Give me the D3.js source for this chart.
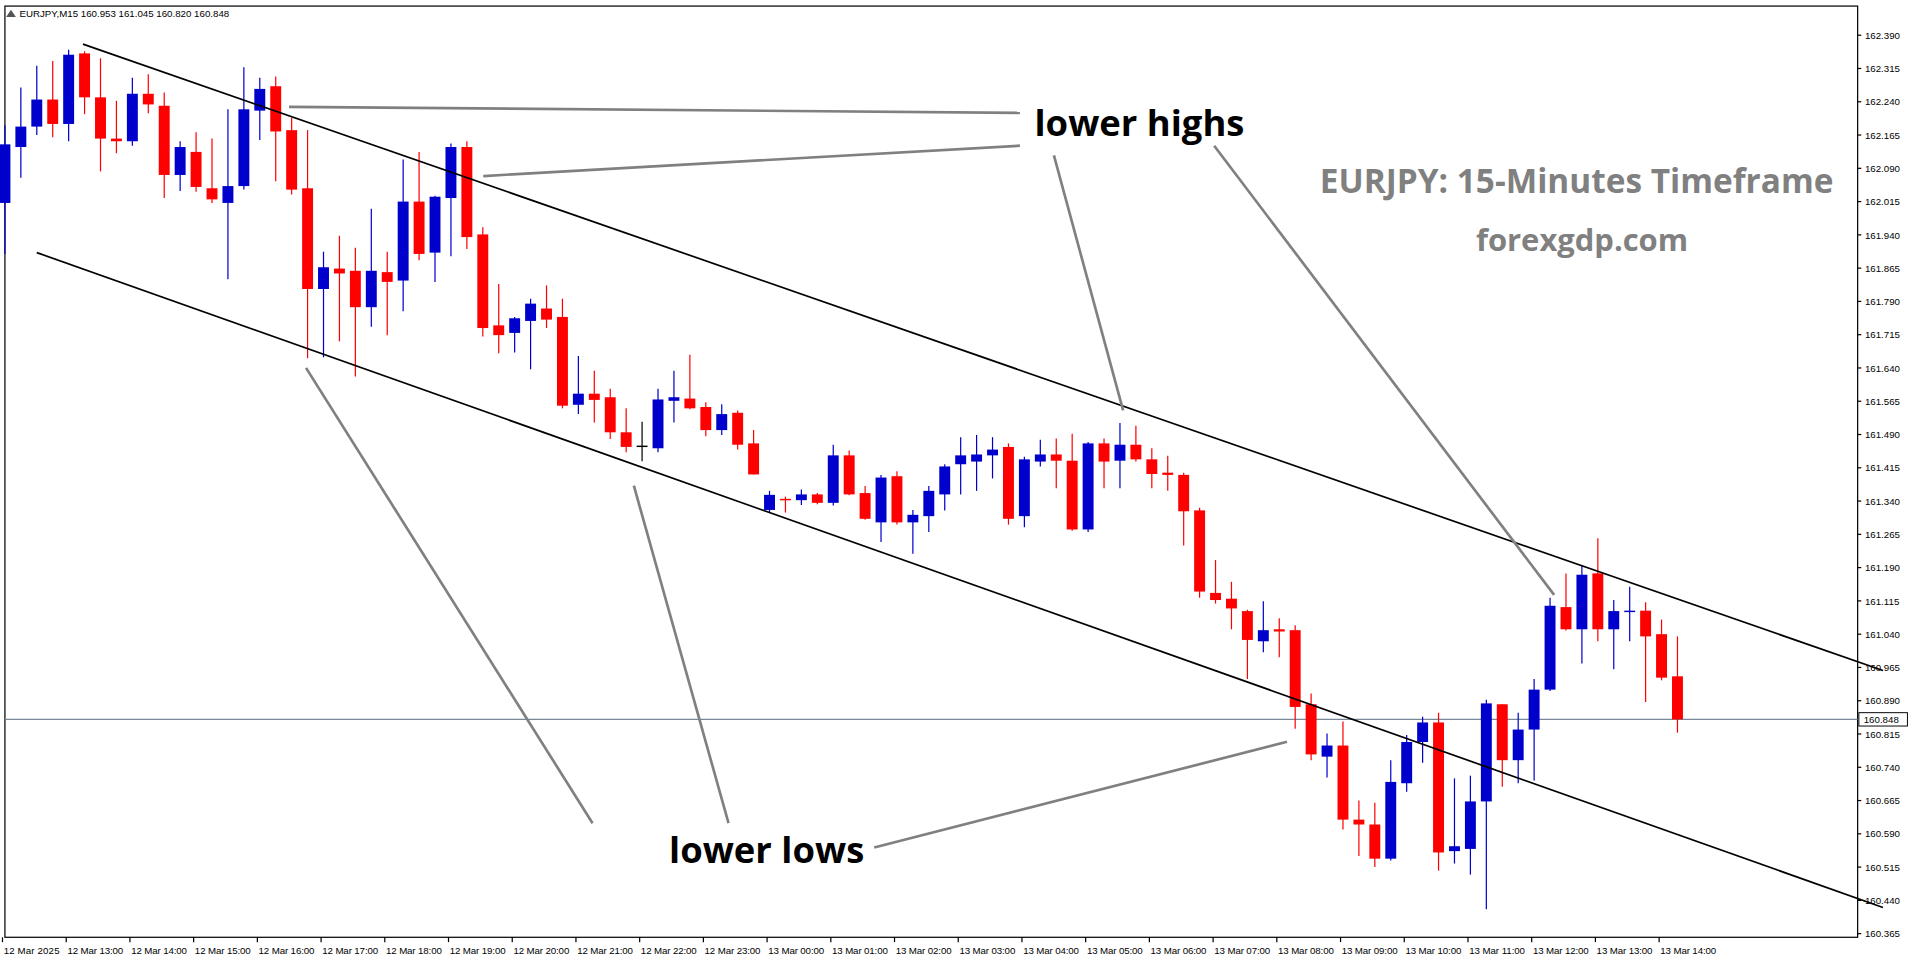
<!DOCTYPE html>
<html>
<head>
<meta charset="utf-8">
<script src="https://cdn.jsdelivr.net/npm/d3@7"></script>
<style>
  body { margin: 0; background: #fff; overflow: hidden; }
  text { font-family: "Liberation Sans", Arial, sans-serif; }
</style>
</head>
<body>
<div id="chart"></div>
<script>
// EURJPY M15 candles, 12 Mar 2025 12:00 .. 13 Mar 2025 14:15
const opens = [162.012,162.138,162.184,162.245,162.190,162.349,162.250,162.157,162.151,162.258,
  162.231,162.075,162.127,162.045,162.012,162.050,162.220,162.275,162.176,162.045,
  161.818,161.864,161.859,161.777,161.856,161.837,162.015,161.900,162.023,162.138,
  161.941,161.736,161.719,161.746,161.774,161.755,161.557,161.582,161.574,161.495,
  161.465,161.459,161.566,161.571,161.552,161.500,161.539,161.470,161.320,161.345,
  161.342,161.355,161.336,161.443,161.358,161.292,161.396,161.292,161.306,161.355,
  161.423,161.429,161.443,161.462,161.306,161.429,161.445,161.431,161.276,161.470,
  161.431,161.467,161.434,161.404,161.399,161.319,161.133,161.120,161.092,161.024,
  161.051,161.049,160.882,160.764,160.789,160.622,160.611,160.534,160.704,160.797,
  160.841,160.551,160.556,160.663,160.882,160.756,160.825,160.915,161.101,161.051,
  161.177,161.051,161.090,161.093,161.040,160.945];
const highs = [162.187,162.272,162.321,162.332,162.357,162.354,162.338,162.242,162.294,162.302,
  162.261,162.151,162.171,162.157,162.223,162.318,162.294,162.297,162.204,162.176,
  161.902,161.938,161.911,161.999,161.902,162.110,162.127,162.028,162.146,162.151,
  161.957,161.829,161.755,161.796,161.826,161.796,161.667,161.634,161.593,161.549,
  161.519,161.593,161.634,161.670,161.563,161.558,161.544,161.500,161.363,161.350,
  161.366,161.358,161.467,161.454,161.374,161.399,161.407,161.320,161.374,161.423,
  161.484,161.489,161.484,161.470,161.440,161.478,161.481,161.492,161.473,161.481,
  161.516,161.510,161.459,161.442,161.404,161.325,161.207,161.158,161.095,161.114,
  161.076,161.060,160.906,160.816,160.843,160.665,160.660,160.756,160.813,160.854,
  160.863,160.715,160.721,160.892,160.882,160.863,160.939,161.122,161.177,161.196,
  161.256,161.117,161.147,161.112,161.073,161.035];
const lows = [161.897,162.069,162.165,162.160,162.151,162.212,162.083,162.124,162.141,162.214,
  162.023,162.039,162.037,162.012,161.840,162.042,162.154,162.061,162.031,161.662,
  161.664,161.700,161.621,161.733,161.714,161.768,161.883,161.834,161.892,161.908,
  161.711,161.673,161.675,161.637,161.730,161.549,161.536,161.517,161.480,161.450,
  161.430,161.450,161.517,161.547,161.486,161.489,161.456,161.400,161.314,161.314,
  161.331,161.333,161.330,161.353,161.298,161.248,161.287,161.221,161.270,161.319,
  161.355,161.363,161.391,161.287,161.281,161.418,161.369,161.273,161.270,161.369,
  161.369,161.429,161.369,161.363,161.240,161.122,161.109,161.051,160.939,160.999,
  160.988,160.827,160.756,160.717,160.600,160.540,160.515,160.530,160.685,160.750,
  160.507,160.523,160.498,160.420,160.696,160.704,160.710,160.912,161.048,160.974,
  161.024,160.961,161.024,160.887,160.936,160.818];
const closes = [162.144,162.184,162.245,162.190,162.346,162.250,162.157,162.151,162.258,162.234,
  162.075,162.138,162.048,162.020,162.050,162.223,162.269,162.173,162.042,161.818,
  161.867,161.853,161.777,161.859,161.834,162.015,161.897,162.026,162.138,161.935,
  161.730,161.714,161.752,161.785,161.749,161.555,161.582,161.568,161.495,161.462,
  161.465,161.569,161.574,161.549,161.500,161.536,161.467,161.400,161.354,161.342,
  161.355,161.336,161.443,161.355,161.300,161.393,161.292,161.309,161.363,161.418,
  161.443,161.445,161.456,161.300,161.434,161.445,161.431,161.276,161.470,161.429,
  161.467,161.434,161.401,161.399,161.317,161.136,161.117,161.098,161.027,161.049,
  161.046,160.876,160.769,160.789,160.622,160.611,160.534,160.707,160.797,160.841,
  160.548,160.562,160.663,160.884,160.756,160.825,160.915,161.104,161.051,161.174,
  161.051,161.092,161.093,161.035,160.942,160.848];

const timeLabels = ["12 Mar 2025","12 Mar 13:00","12 Mar 14:00","12 Mar 15:00","12 Mar 16:00",
  "12 Mar 17:00","12 Mar 18:00","12 Mar 19:00","12 Mar 20:00","12 Mar 21:00","12 Mar 22:00",
  "12 Mar 23:00","13 Mar 00:00","13 Mar 01:00","13 Mar 02:00","13 Mar 03:00","13 Mar 04:00",
  "13 Mar 05:00","13 Mar 06:00","13 Mar 07:00","13 Mar 08:00","13 Mar 09:00","13 Mar 10:00",
  "13 Mar 11:00","13 Mar 12:00","13 Mar 13:00","13 Mar 14:00"];
const priceTicks = d3.range(0, 28).map(k => +(160.365 + k * 0.075).toFixed(3));
const lastPrice = 160.848;

// channel lines [candle index, price]
const upperChannel = [[4.9, 162.370], [117.9, 160.958]];
const lowerChannel = [[2.0, 161.900], [117.9, 160.424]];

// drawn in a 1578x794 design space, scaled to the window
const W = 1578, H = 794;
const plot = {left: 4, right: 1530, top: 5, bottom: 772};

const svg = d3.select("#chart").append("svg")
  .attr("width", 1916).attr("height", 964)
  .attr("viewBox", `0 0 ${W} ${H}`);

const x = d3.scaleLinear().domain([0, 105]).range([4, 4 + 13.12 * 105]);
const y = d3.scaleLinear().domain([160.365, 162.390]).range([769, 29]);

// frame
svg.append("rect")
  .attr("x", plot.left).attr("y", plot.top)
  .attr("width", plot.right - plot.left).attr("height", plot.bottom - plot.top)
  .attr("fill", "none").attr("stroke", "#000").attr("stroke-width", 1);

// price axis
const pa = svg.append("g");
priceTicks.forEach(p => {
  pa.append("line").attr("x1", plot.right).attr("x2", plot.right + 3)
    .attr("y1", y(p)).attr("y2", y(p)).attr("stroke", "#000");
  pa.append("text").attr("x", plot.right + 6).attr("y", y(p) + 3)
    .attr("font-size", 8).text(p.toFixed(3));
});

// time axis
const ta = svg.append("g");
timeLabels.forEach((t, k) => {
  const xx = x(k * 4) - 2;
  ta.append("line").attr("x1", xx).attr("x2", xx)
    .attr("y1", plot.bottom).attr("y2", plot.bottom + 4).attr("stroke", "#000");
  ta.append("text").attr("x", xx + 1).attr("y", plot.bottom + 14)
    .attr("font-size", 8).attr("textLength", 46).text(t);
});

// last price line
svg.append("line").attr("x1", plot.left).attr("x2", plot.right)
  .attr("y1", y(lastPrice)).attr("y2", y(lastPrice))
  .attr("stroke", "#778899").attr("stroke-width", 1);
svg.append("rect").attr("x", plot.right + 1).attr("y", y(lastPrice) - 5.5)
  .attr("width", 40).attr("height", 11).attr("fill", "#fff").attr("stroke", "#000").attr("stroke-width", 0.8);
svg.append("text").attr("x", plot.right + 5).attr("y", y(lastPrice) + 3)
  .attr("font-size", 8).text(lastPrice.toFixed(3));

// candles
const candles = d3.range(opens.length).map(i => ({
  i, o: opens[i], h: highs[i], l: lows[i], c: closes[i]
}));
const color = d => d.c > d.o ? "#0000cc" : (d.c < d.o ? "#ff0000" : "#000");
const g = svg.append("g");
g.selectAll("line.wick").data(candles).enter().append("line")
  .attr("x1", d => x(d.i)).attr("x2", d => x(d.i))
  .attr("y1", d => y(d.h)).attr("y2", d => y(d.l))
  .attr("stroke", color).attr("stroke-width", 1);
g.selectAll("rect").data(candles).enter().append("rect")
  .attr("x", d => x(d.i) - 4.5).attr("width", 9)
  .attr("y", d => y(Math.max(d.o, d.c)))
  .attr("height", d => Math.max(1.2, Math.abs(y(d.o) - y(d.c))))
  .attr("fill", color);

// channel lines
const chan = d3.line().x(d => x(d[0])).y(d => y(d[1]));
[upperChannel, lowerChannel].forEach(c => {
  svg.append("path").attr("d", chan(c)).attr("stroke", "#000")
    .attr("stroke-width", 1.4).attr("fill", "none");
});

// annotations
const pointers = [
  [[238, 88], [840, 93]], [[398, 145], [840, 120]],
  [[868, 128], [925, 338]], [[1000, 120], [1280, 490]],
  [[252, 303], [488, 678]], [[522, 400], [600, 678]], [[720, 698], [1060, 611]]
];
pointers.forEach(p => {
  svg.append("line").attr("x1", p[0][0]).attr("y1", p[0][1])
    .attr("x2", p[1][0]).attr("y2", p[1][1])
    .attr("stroke", "#808080").attr("stroke-width", 2.2);
});
const bold = "'Open Sans', 'Noto Sans', sans-serif";
const big = (tx, ty, size, fill, txt) => svg.append("text")
  .attr("x", tx).attr("y", ty).style("font-family", bold)
  .attr("font-weight", 700).attr("font-size", size).attr("fill", fill).text(txt);
big(852, 112, 30, "#000", "lower highs");
big(551, 711, 30, "#000", "lower lows");
big(1087, 159, 27.5, "#808080", "EURJPY: 15-Minutes Timeframe");
big(1303, 207, 25.5, "#808080", "forexgdp.com").attr("text-anchor", "middle");

// header
svg.append("path").attr("d", "M9,8 L13,14 L5,14 Z").attr("fill", "#555");
svg.append("text").attr("x", 16).attr("y", 14).attr("font-size", 8)
  .text("EURJPY,M15  160.953 161.045 160.820 160.848");
</script>
</body>
</html>
